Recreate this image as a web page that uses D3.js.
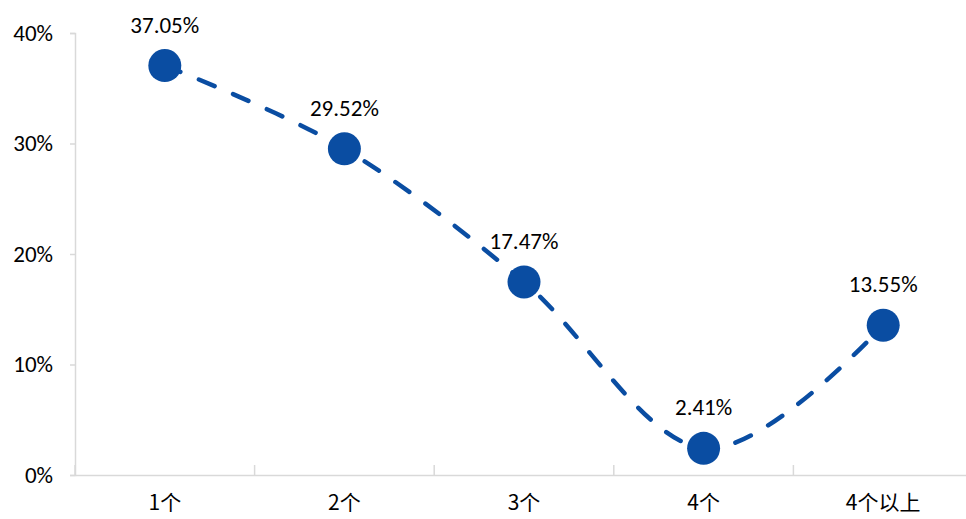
<!DOCTYPE html>
<html><head><meta charset="utf-8">
<script src="https://cdn.jsdelivr.net/npm/d3@7"></script>
<style>body{margin:0;background:#fff;}svg{display:block;}</style>
</head><body>
<svg id="c" width="966" height="519"></svg>
<script>
const categories = ["1个","2个","3个","4个","4个以上"];
const values = [37.05, 29.52, 17.47, 2.41, 13.55];
const yTicks = [0, 10, 20, 30, 40];

(function(){
const svg = d3.select("#c");
const font = "Carlito, Calibri, Lato, 'Noto Sans CJK SC', sans-serif";
const pl = 75, pr = 973, pt = 33, pb = 475;
const x = d3.scaleBand().domain(categories).range([pl, pr]);
const y = d3.scaleLinear().domain([0, 40]).range([pb, pt]);
const axisColor = "#d9d9d9";

// y axis
const ya = svg.append("g").attr("transform", `translate(${pl},0)`)
  .call(d3.axisLeft(y).tickValues(yTicks).tickFormat(d => d + "%").tickSize(5).tickPadding(17));
ya.select(".domain").attr("stroke", axisColor).attr("stroke-width", 1.5);
ya.selectAll(".tick line").attr("stroke", axisColor).attr("stroke-width", 1.5);
ya.selectAll("text").attr("font-family", font).attr("font-size", 23).attr("fill", "#000");

// x axis
const xa = svg.append("g").attr("transform", `translate(0,${pb})`)
  .call(d3.axisBottom(x).tickSize(0).tickPadding(20));
xa.select(".domain").attr("stroke", axisColor).attr("stroke-width", 1.5);
xa.selectAll("text").attr("font-family", "'Noto Sans CJK SC', sans-serif").attr("font-size", 21).attr("fill", "#000");
const bounds = categories.map(c => x(c)).concat([x(categories[categories.length-1]) + x.bandwidth()]);
svg.append("g").selectAll("line").data(bounds).join("line")
  .attr("x1", d => d).attr("x2", d => d).attr("y1", pb).attr("y2", pb - 10)
  .attr("stroke", axisColor).attr("stroke-width", 1.5);

const cx = d => x(d) + x.bandwidth() / 2;
const color = "#0A4DA2";
const line = d3.line().x((d, i) => cx(categories[i])).y(d => y(d)).curve(d3.curveCatmullRom.alpha(0));
svg.append("path").datum(values).attr("d", line).attr("fill", "none")
  .attr("stroke", color).attr("stroke-width", 4.5).attr("stroke-dasharray", "17,20")
  .attr("stroke-linecap", "round");

svg.append("g").selectAll("circle").data(values).join("circle")
  .attr("cx", (d, i) => cx(categories[i])).attr("cy", d => y(d)).attr("r", 16.5).attr("fill", color);

svg.append("g").selectAll("text").data(values).join("text")
  .attr("x", (d, i) => cx(categories[i])).attr("y", d => y(d) - 33)
  .attr("text-anchor", "middle").attr("font-family", font).attr("font-size", 23).attr("fill", "#000")
  .text(d => d.toFixed(2) + "%");
})();
</script>
</body></html>
